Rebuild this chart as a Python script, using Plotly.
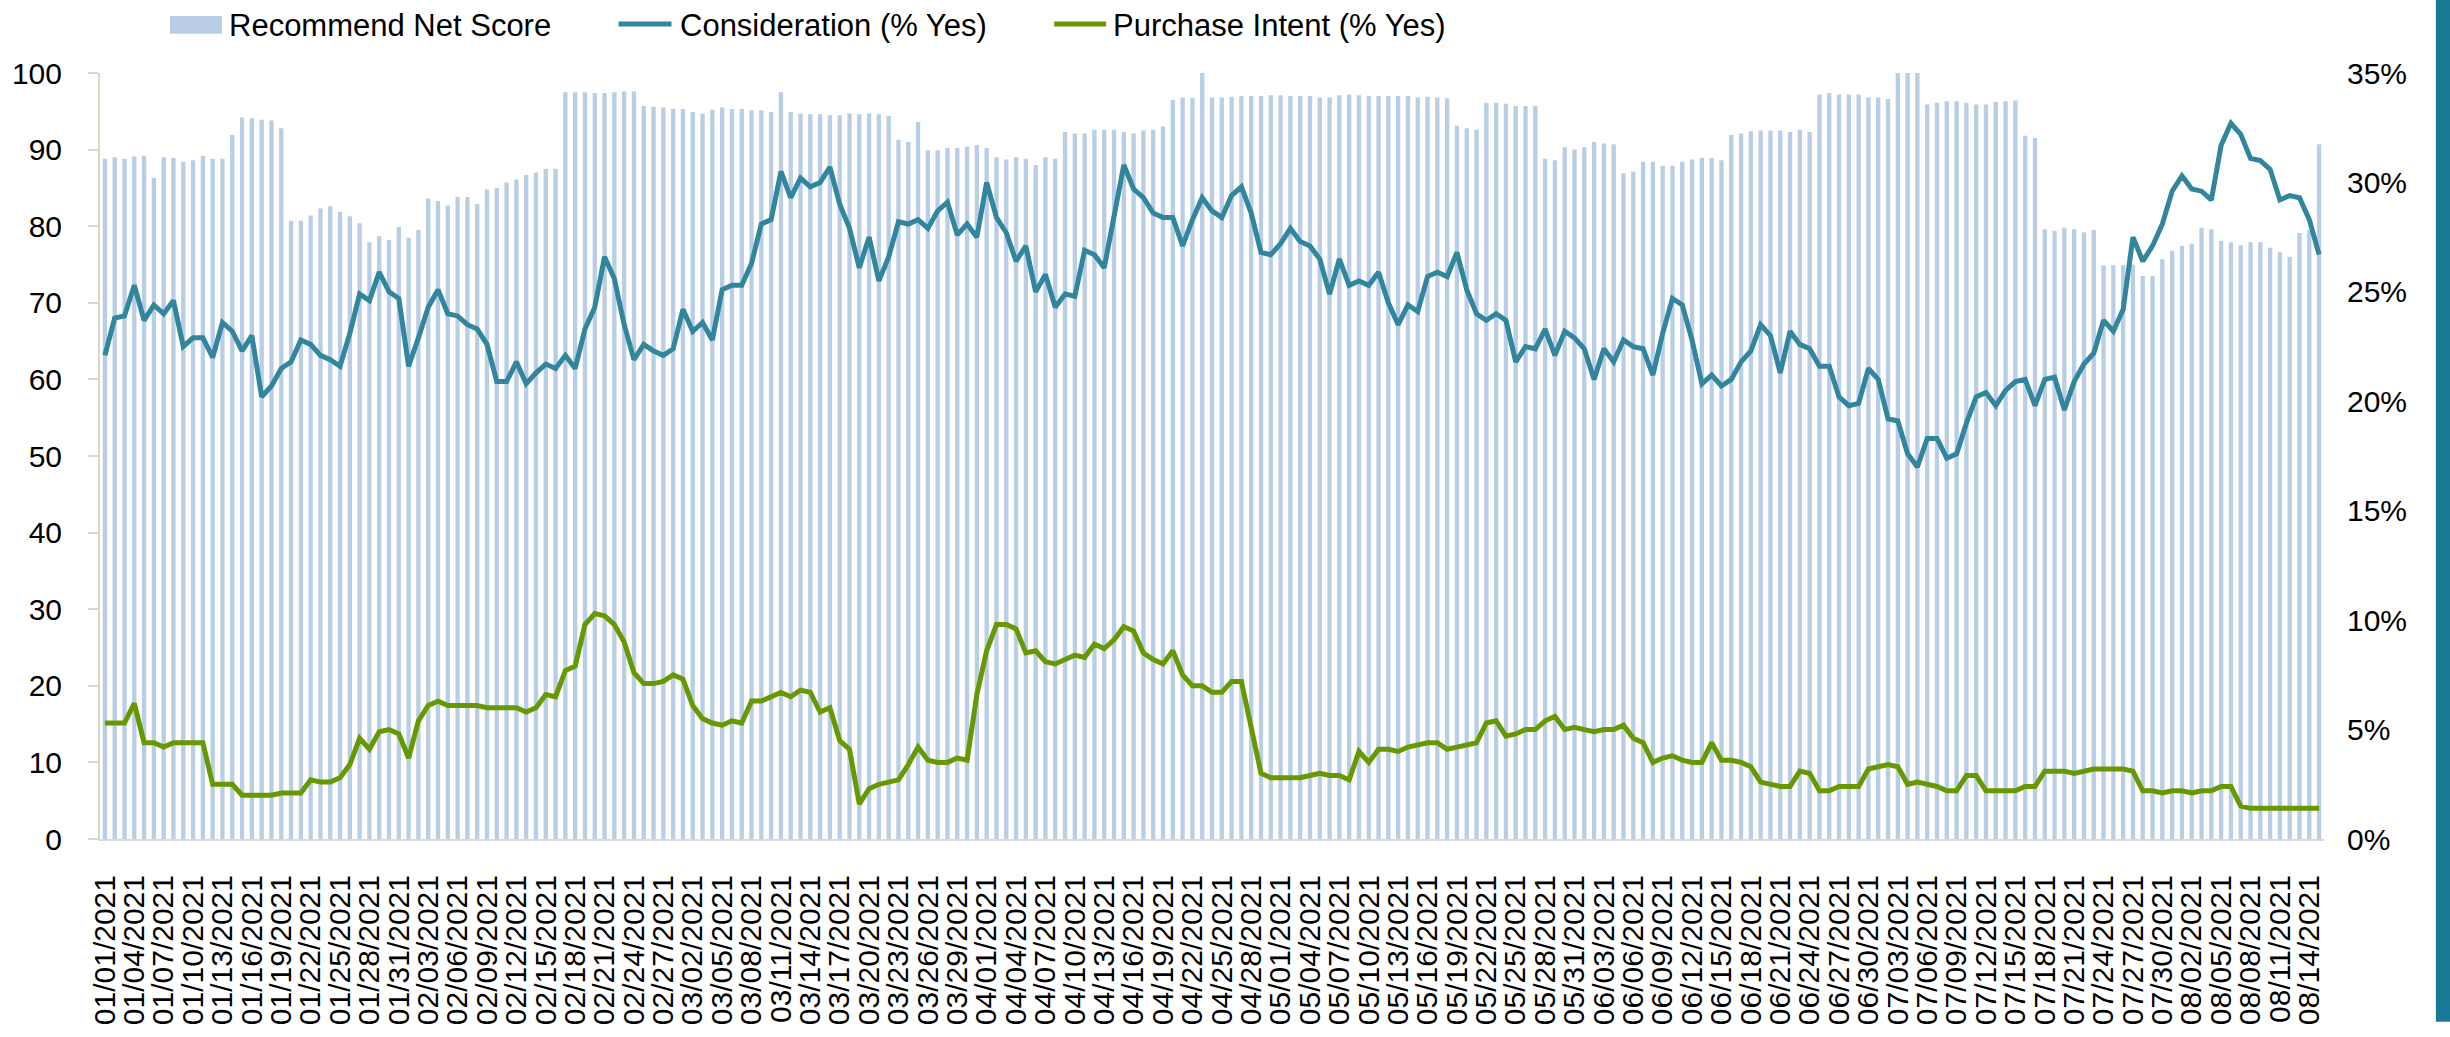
import pandas as pd
import plotly.graph_objects as go

# ---- categories (daily, 01/01/2021 .. 08/15/2021) ----
dates = list(pd.date_range("2021-01-01", "2021-08-15", freq="D").strftime("%m/%d/%Y"))
tick_labels = dates[::3]

# ---- series values ----
recommend_net_score = [
    88.8, 89.0, 88.8, 89.1, 89.2, 86.3, 89.0, 88.9, 88.4, 88.6,
    89.2, 88.8, 88.8, 91.9, 94.2, 94.1, 93.9, 93.8, 92.8, 80.7,
    80.7, 81.4, 82.3, 82.6, 81.9, 81.3, 80.4, 77.9, 78.7, 78.2,
    79.9, 78.5, 79.5, 83.6, 83.3, 82.7, 83.8, 83.8, 82.9, 84.8,
    85.0, 85.7, 86.1, 86.7, 87.0, 87.5, 87.5, 97.5, 97.5, 97.5,
    97.4, 97.4, 97.5, 97.6, 97.6, 95.7, 95.6, 95.5, 95.3, 95.3,
    94.9, 94.7, 95.2, 95.5, 95.3, 95.3, 95.1, 95.1, 94.9, 97.5,
    94.9, 94.7, 94.6, 94.6, 94.5, 94.5, 94.7, 94.6, 94.7, 94.6,
    94.4, 91.3, 91.0, 93.6, 89.9, 89.9, 90.2, 90.2, 90.4, 90.6,
    90.2, 89.0, 88.7, 89.0, 88.8, 88.0, 89.0, 88.8, 92.3, 92.1,
    92.1, 92.6, 92.6, 92.6, 92.3, 92.1, 92.5, 92.6, 93.0, 96.5,
    96.8, 96.7, 100.0, 96.8, 96.8, 96.9, 97.0, 97.0, 97.0, 97.1,
    97.1, 97.0, 97.0, 97.0, 96.8, 96.8, 97.1, 97.2, 97.1, 97.0,
    97.0, 97.0, 97.0, 97.0, 96.8, 96.9, 96.8, 96.7, 93.1, 92.8,
    92.6, 96.1, 96.1, 96.0, 95.7, 95.7, 95.7, 88.8, 88.6, 90.3,
    90.0, 90.3, 91.0, 90.8, 90.7, 86.9, 87.1, 88.4, 88.4, 87.9,
    87.9, 88.4, 88.7, 88.9, 88.9, 88.6, 91.9, 92.1, 92.4, 92.5,
    92.5, 92.5, 92.3, 92.6, 92.3, 97.2, 97.4, 97.2, 97.2, 97.2,
    96.8, 96.8, 96.6, 100.0, 100.0, 100.0, 95.9, 96.1, 96.3, 96.3,
    96.1, 95.9, 95.9, 96.2, 96.3, 96.4, 91.8, 91.5, 79.6, 79.4,
    79.8, 79.6, 79.2, 79.5, 74.9, 74.9, 74.9, 75.0, 73.5, 73.5,
    75.7, 76.8, 77.4, 77.7, 79.8, 79.6, 78.1, 77.9, 77.5, 77.9,
    77.9, 77.2, 76.6, 76.0, 79.1, 79.5, 90.7,
]

consideration_pct = [
    22.1, 23.8, 23.9, 25.3, 23.7, 24.4, 24.0, 24.6, 22.5, 22.9,
    22.9, 22.0, 23.6, 23.2, 22.3, 23.0, 20.2, 20.7, 21.5, 21.8,
    22.8, 22.6, 22.1, 21.9, 21.6, 23.1, 24.9, 24.6, 25.9, 25.0,
    24.7, 21.6, 22.9, 24.3, 25.1, 24.0, 23.9, 23.5, 23.3, 22.6,
    20.9, 20.9, 21.8, 20.8, 21.3, 21.7, 21.5, 22.1, 21.5, 23.3,
    24.3, 26.6, 25.6, 23.5, 21.9, 22.6, 22.3, 22.1, 22.4, 24.2,
    23.2, 23.6, 22.8, 25.1, 25.3, 25.3, 26.3, 28.1, 28.3, 30.5,
    29.3, 30.2, 29.8, 30.0, 30.7, 29.0, 27.9, 26.1, 27.5, 25.5,
    26.6, 28.2, 28.1, 28.3, 27.9, 28.7, 29.1, 27.6, 28.1, 27.5,
    30.0, 28.4, 27.7, 26.4, 27.1, 25.0, 25.8, 24.3, 24.9, 24.8,
    26.9, 26.7, 26.1, 28.5, 30.8, 29.7, 29.3, 28.6, 28.4, 28.4,
    27.1, 28.3, 29.3, 28.7, 28.4, 29.4, 29.8, 28.6, 26.8, 26.7,
    27.2, 27.9, 27.3, 27.1, 26.5, 24.9, 26.5, 25.3, 25.5, 25.3,
    25.9, 24.5, 23.5, 24.4, 24.1, 25.7, 25.9, 25.7, 26.8, 25.1,
    24.0, 23.7, 24.0, 23.7, 21.8, 22.5, 22.4, 23.3, 22.1, 23.2,
    22.9, 22.4, 21.0, 22.4, 21.8, 22.8, 22.5, 22.4, 21.2, 23.1,
    24.7, 24.4, 22.8, 20.8, 21.2, 20.7, 21.0, 21.8, 22.3, 23.5,
    23.0, 21.3, 23.2, 22.6, 22.4, 21.6, 21.6, 20.2, 19.8, 19.9,
    21.5, 21.0, 19.2, 19.1, 17.6, 17.0, 18.3, 18.3, 17.4, 17.6,
    19.0, 20.2, 20.4, 19.8, 20.5, 20.9, 21.0, 19.8, 21.0, 21.1,
    19.6, 20.9, 21.7, 22.2, 23.7, 23.2, 24.2, 27.5, 26.4, 27.1,
    28.1, 29.6, 30.3, 29.7, 29.6, 29.2, 31.7, 32.7, 32.2, 31.1,
    31.0, 30.6, 29.2, 29.4, 29.3, 28.3, 26.7,
]

purchase_intent_pct = [
    5.3, 5.3, 5.3, 6.2, 4.4, 4.4, 4.2, 4.4, 4.4, 4.4,
    4.4, 2.5, 2.5, 2.5, 2.0, 2.0, 2.0, 2.0, 2.1, 2.1,
    2.1, 2.7, 2.6, 2.6, 2.8, 3.4, 4.6, 4.1, 4.9, 5.0,
    4.8, 3.7, 5.4, 6.1, 6.3, 6.1, 6.1, 6.1, 6.1, 6.0,
    6.0, 6.0, 6.0, 5.8, 6.0, 6.6, 6.5, 7.7, 7.9, 9.8,
    10.3, 10.2, 9.8, 9.0, 7.6, 7.1, 7.1, 7.2, 7.5, 7.3,
    6.1, 5.5, 5.3, 5.2, 5.4, 5.3, 6.3, 6.3, 6.5, 6.7,
    6.5, 6.8, 6.7, 5.8, 6.0, 4.5, 4.1, 1.6, 2.3, 2.5,
    2.6, 2.7, 3.4, 4.2, 3.6, 3.5, 3.5, 3.7, 3.6, 6.6,
    8.6, 9.8, 9.8, 9.6, 8.5, 8.6, 8.1, 8.0, 8.2, 8.4,
    8.3, 8.9, 8.7, 9.1, 9.7, 9.5, 8.5, 8.2, 8.0, 8.6,
    7.5, 7.0, 7.0, 6.7, 6.7, 7.2, 7.2, 5.0, 3.0, 2.8,
    2.8, 2.8, 2.8, 2.9, 3.0, 2.9, 2.9, 2.7, 4.0, 3.5,
    4.1, 4.1, 4.0, 4.2, 4.3, 4.4, 4.4, 4.1, 4.2, 4.3,
    4.4, 5.3, 5.4, 4.7, 4.8, 5.0, 5.0, 5.4, 5.6, 5.0,
    5.1, 5.0, 4.9, 5.0, 5.0, 5.2, 4.6, 4.4, 3.5, 3.7,
    3.8, 3.6, 3.5, 3.5, 4.4, 3.6, 3.6, 3.5, 3.3, 2.6,
    2.5, 2.4, 2.4, 3.1, 3.0, 2.2, 2.2, 2.4, 2.4, 2.4,
    3.2, 3.3, 3.4, 3.3, 2.5, 2.6, 2.5, 2.4, 2.2, 2.2,
    2.9, 2.9, 2.2, 2.2, 2.2, 2.2, 2.4, 2.4, 3.1, 3.1,
    3.1, 3.0, 3.1, 3.2, 3.2, 3.2, 3.2, 3.1, 2.2, 2.2,
    2.1, 2.2, 2.2, 2.1, 2.2, 2.2, 2.4, 2.4, 1.5, 1.4,
    1.4, 1.4, 1.4, 1.4, 1.4, 1.4, 1.4,
]

left_ticks = list(range(0, 101, 10))
right_ticks = list(range(0, 36, 5))
right_tick_text = [f"{v}%" for v in right_ticks]

series_names = ["Recommend Net Score", "Consideration (% Yes)", "Purchase Intent (% Yes)"]

# ---- styles ----
BAR_C = "#B9CDE5"
TEAL = "#31859C"
GREEN = "#669900"
FONT = "Arial, 'Liberation Sans', sans-serif"
W, H = 2450, 1037
L, R, T, B = 98, 126, 73, 184
PW, PH = W - L - R, H - T - B
LW = 5


def px(x):
    return (x - L) / PW


def py(y):
    return (H - B - y) / PH


fig = go.Figure()
fig.add_trace(go.Bar(x=dates, y=recommend_net_score, name=series_names[0],
                     marker=dict(color=BAR_C, line=dict(width=0)), showlegend=False))
fig.add_trace(go.Scatter(x=dates, y=consideration_pct, name=series_names[1], yaxis="y2",
                         mode="lines", line=dict(color=TEAL, width=LW), showlegend=False))
fig.add_trace(go.Scatter(x=dates, y=purchase_intent_pct, name=series_names[2], yaxis="y2",
                         mode="lines", line=dict(color=GREEN, width=LW), showlegend=False))

# manual legend (keys + text)
shapes = [
    dict(type="rect", xref="paper", yref="paper", x0=px(168), x1=px(220), y0=py(33), y1=py(15),
         fillcolor=BAR_C, line=dict(width=0)),
    dict(type="line", xref="paper", yref="paper", x0=px(617), x1=px(670), y0=py(23), y1=py(23),
         line=dict(color=TEAL, width=LW)),
    dict(type="line", xref="paper", yref="paper", x0=px(1053), x1=px(1105), y0=py(23), y1=py(23),
         line=dict(color=GREEN, width=LW)),
    # decorative teal strip on the right edge
    dict(type="rect", xref="paper", yref="paper", x0=px(2436), x1=px(2455), y0=py(H + 2), y1=py(-2),
         fillcolor="#1A7A95", line=dict(width=0), layer="above"),
]
annotations = []
for name, x0 in zip(series_names, [225, 677, 1110]):
    annotations.append(dict(text=name, xref="paper", yref="paper", x=px(x0), y=py(25),
                            xanchor="left", yanchor="middle", showarrow=False,
                            font=dict(family=FONT, size=31, color="#000000")))

fig.update_layout(
    width=W, height=H, autosize=False,
    margin=dict(l=L, r=R, t=T, b=B, pad=0),
    paper_bgcolor="white", plot_bgcolor="white",
    font=dict(family=FONT, size=30, color="#000000"),
    bargap=0.56,
    shapes=shapes, annotations=annotations,
    showlegend=False,
    xaxis=dict(type="category", range=[-0.5, len(dates) - 0.5],
               tickmode="array", tickvals=tick_labels, ticktext=tick_labels,
               tickangle=-90, ticks="", showgrid=False, zeroline=False,
               showline=True, linecolor="#D9D9D9", linewidth=2,
               tickfont=dict(family=FONT, size=30, color="#000000"),
               ticklabelstandoff=22),
    yaxis=dict(range=[0, 100], tickmode="array", tickvals=left_ticks,
               ticktext=[str(v) for v in left_ticks],
               showgrid=False, zeroline=False, showline=True, linecolor="#DDD8C4", linewidth=2,
               ticks="outside", ticklen=10, tickwidth=2, tickcolor="#DDD8C4",
               tickfont=dict(family=FONT, size=30, color="#000000"),
               ticklabelstandoff=20),
    yaxis2=dict(range=[0, 35], overlaying="y", side="right", tickmode="array",
                tickvals=right_ticks, ticktext=right_tick_text, showgrid=False, zeroline=False,
                showline=False, ticks="",
                tickfont=dict(family=FONT, size=30, color="#000000"),
                ticklabelstandoff=22),
)

fig.write_html("out.html", config={"displayModeBar": False},
               post_script="document.body.style.margin='0px';")
